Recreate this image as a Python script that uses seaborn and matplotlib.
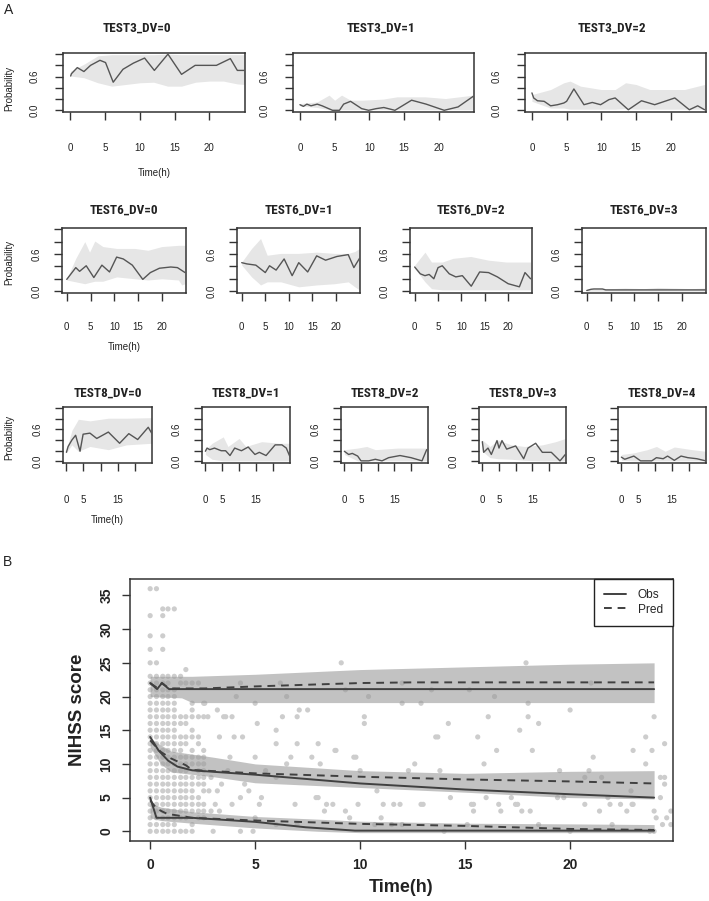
import numpy as np
import pandas as pd
import matplotlib
matplotlib.use("Agg")
import matplotlib.pyplot as plt
from matplotlib import font_manager as fm
import seaborn as sns
from matplotlib.lines import Line2D

W, H = 709, 901
sns.set_theme(style="ticks")
plt.rcParams["font.family"] = ["Liberation Sans", "DejaVu Sans"]

# ---------------- Panel A data ----------------
titles_row1 = ["TEST3_DV=0", "TEST3_DV=1", "TEST3_DV=2"]
titles_row2 = ["TEST6_DV=0", "TEST6_DV=1", "TEST6_DV=2", "TEST6_DV=3"]
titles_row3 = ["TEST8_DV=0", "TEST8_DV=1", "TEST8_DV=2", "TEST8_DV=3", "TEST8_DV=4"]

t3_0_obs_t = [0.1, 0.2, 1.05, 2.0, 2.95, 4.3, 5.1, 6.2, 7.6, 9.1, 10.7, 12.1, 14.05, 16.0, 17.95, 21.0, 23.0, 24.0, 25.0]
t3_0_obs_p = [0.61, 0.65, 0.76, 0.69, 0.80, 0.89, 0.85, 0.50, 0.73, 0.84, 0.93, 0.71, 1.00, 0.64, 0.80, 0.80, 0.92, 0.71, 0.71]
t3_0_band_t = [0.1, 2.0, 4.0, 6.0, 8.0, 10.0, 12.0, 14.0, 16.0, 18.0, 20.0, 22.0, 24.0, 25.0]
t3_0_hi = [0.70, 0.82, 0.97, 0.99, 0.99, 0.99, 0.99, 1.00, 0.99, 0.99, 0.99, 0.99, 0.99, 0.99]
t3_0_lo = [0.61, 0.58, 0.49, 0.43, 0.46, 0.49, 0.50, 0.43, 0.43, 0.50, 0.52, 0.52, 0.47, 0.46]

t3_1_obs_t = [0.0, 0.5, 1.0, 1.6, 2.5, 3.2, 4.7, 5.7, 6.3, 7.3, 8.9, 9.9, 11.0, 12.1, 13.7, 16.1, 18.2, 20.8, 22.8, 25.0]
t3_1_obs_p = [0.10, 0.07, 0.11, 0.08, 0.11, 0.08, 0.0, 0.0, 0.11, 0.16, 0.03, 0.0, 0.03, 0.05, 0.0, 0.18, 0.11, 0.0, 0.06, 0.25]
t3_1_band_t = [0.0, 2.5, 4.2, 5.0, 6.0, 7.3, 9.0, 12.0, 14.0, 18.0, 21.0, 25.0]
t3_1_hi = [0.12, 0.15, 0.27, 0.18, 0.27, 0.18, 0.18, 0.20, 0.24, 0.24, 0.21, 0.27]
t3_1_lo = [0.08, 0.05, 0.01, 0.01, 0.01, 0.01, 0.01, 0.01, 0.01, 0.01, 0.01, 0.01]

t3_2_obs_t = [0.0, 0.25, 0.8, 1.76, 2.7, 3.7, 4.6, 5.0, 6.05, 7.5, 8.7, 9.9, 11.1, 12.0, 13.9, 15.8, 17.7, 20.6, 22.7, 23.9, 24.9]
t3_2_obs_p = [0.31, 0.22, 0.17, 0.16, 0.08, 0.10, 0.13, 0.16, 0.38, 0.10, 0.14, 0.10, 0.19, 0.22, 0.01, 0.17, 0.10, 0.22, 0.01, 0.08, 0.01]
t3_2_band_t = [0.0, 2.7, 4.6, 5.5, 7.0, 10.0, 12.0, 13.5, 15.0, 17.0, 22.0, 24.9]
t3_2_hi = [0.28, 0.37, 0.49, 0.52, 0.43, 0.37, 0.37, 0.49, 0.46, 0.37, 0.37, 0.46]
t3_2_lo = [0.16, 0.04, 0.04, 0.02, 0.02, 0.02, 0.02, 0.03, 0.02, 0.02, 0.02, 0.02]

t6_0_obs_t = [0.0, 1.9, 2.7, 4.1, 5.7, 7.4, 9.0, 10.5, 11.9, 13.8, 16.0, 17.6, 19.5, 21.9, 23.3, 24.9]
t6_0_obs_p = [0.19, 0.38, 0.32, 0.41, 0.22, 0.42, 0.31, 0.55, 0.52, 0.42, 0.19, 0.30, 0.37, 0.39, 0.38, 0.30]
t6_0_band_t = [0.0, 1.9, 3.8, 4.8, 5.9, 7.6, 10.5, 14.3, 17.1, 20.0, 23.5, 24.2, 24.9]
t6_0_hi = [0.20, 0.53, 0.80, 0.63, 0.81, 0.72, 0.69, 0.69, 0.66, 0.72, 0.74, 0.74, 0.74]
t6_0_lo = [0.18, 0.15, 0.12, 0.14, 0.16, 0.16, 0.23, 0.20, 0.18, 0.20, 0.18, 0.10, 0.12]

t6_1_obs_t = [0.0, 1.1, 3.0, 5.0, 5.9, 7.3, 9.0, 10.7, 12.1, 14.0, 15.9, 17.8, 20.2, 22.6, 23.8, 25.0]
t6_1_obs_p = [0.46, 0.44, 0.42, 0.30, 0.41, 0.34, 0.52, 0.25, 0.46, 0.31, 0.57, 0.50, 0.56, 0.59, 0.38, 0.53]
t6_1_band_t = [0.0, 2.1, 4.0, 5.4, 8.3, 12.1, 15.9, 19.7, 22.6, 24.0, 25.0]
t6_1_hi = [0.47, 0.69, 0.85, 0.58, 0.61, 0.61, 0.63, 0.61, 0.61, 0.64, 0.69]
t6_1_lo = [0.42, 0.23, 0.10, 0.15, 0.15, 0.07, 0.10, 0.12, 0.15, 0.07, 0.02]

t6_2_obs_t = [0.0, 1.2, 2.2, 3.1, 4.1, 5.0, 5.9, 7.4, 8.8, 10.2, 12.1, 13.9, 15.8, 17.7, 20.0, 22.4, 23.6, 24.8]
t6_2_obs_p = [0.39, 0.28, 0.25, 0.27, 0.20, 0.38, 0.41, 0.28, 0.23, 0.25, 0.08, 0.31, 0.30, 0.23, 0.12, 0.07, 0.30, 0.20]
t6_2_band_t = [0.0, 2.2, 3.6, 5.9, 8.2, 12.0, 15.8, 19.6, 24.8]
t6_2_hi = [0.42, 0.63, 0.47, 0.47, 0.53, 0.56, 0.50, 0.47, 0.47]
t6_2_lo = [0.37, 0.15, 0.04, 0.02, 0.02, 0.02, 0.02, 0.02, 0.02]

t6_3_obs_t = [0.0, 0.9, 1.5, 3.3, 4.0, 25.0]
t6_3_obs_p = [0.01, 0.03, 0.035, 0.035, 0.02, 0.02]
t6_3_band_t = [0.0, 5.0, 8.0, 12.0, 15.0, 18.0, 22.0, 25.0]
t6_3_hi = [0.03, 0.04, 0.05, 0.04, 0.06, 0.05, 0.04, 0.05]
t6_3_lo = [0.0, 0.0, 0.0, 0.0, 0.0, 0.0, 0.0, 0.0]

t8_0_obs_t = [0.0, 0.5, 1.6, 2.7, 4.0, 4.9, 6.9, 8.9, 12.3, 15.6, 18.3, 20.9, 24.0, 25.0]
t8_0_obs_p = [0.17, 0.28, 0.40, 0.49, 0.19, 0.51, 0.53, 0.43, 0.55, 0.34, 0.52, 0.41, 0.64, 0.53]
t8_0_band_t = [0.0, 1.6, 3.5, 6.9, 12.3, 17.6, 25.0]
t8_0_hi = [0.22, 0.58, 0.79, 0.76, 0.81, 0.81, 0.82]
t8_0_lo = [0.16, 0.31, 0.19, 0.28, 0.22, 0.31, 0.34]

t8_1_obs_t = [0.0, 0.5, 1.3, 2.7, 4.7, 6.0, 7.3, 8.7, 10.7, 12.7, 14.7, 16.0, 18.0, 20.7, 22.7, 24.0, 25.0]
t8_1_obs_p = [0.19, 0.25, 0.22, 0.25, 0.20, 0.20, 0.11, 0.25, 0.20, 0.27, 0.13, 0.17, 0.11, 0.31, 0.31, 0.25, 0.10]
t8_1_band_t = [0.0, 2.0, 5.3, 6.7, 10.0, 12.0, 16.7, 22.0, 25.0]
t8_1_hi = [0.22, 0.34, 0.46, 0.28, 0.43, 0.28, 0.37, 0.34, 0.34]
t8_1_lo = [0.13, 0.04, 0.01, 0.01, 0.01, 0.01, 0.01, 0.01, 0.01]

t8_2_obs_t = [0.0, 1.3, 2.4, 4.0, 5.0, 7.3, 9.3, 11.3, 13.3, 16.7, 20.0, 23.3, 24.7]
t8_2_obs_p = [0.19, 0.13, 0.15, 0.10, 0.01, 0.01, 0.04, 0.01, 0.07, 0.11, 0.07, 0.01, 0.22]
t8_2_band_t = [0.0, 4.0, 6.7, 9.3, 16.0, 24.7]
t8_2_hi = [0.22, 0.25, 0.28, 0.22, 0.25, 0.25]
t8_2_lo = [0.13, 0.01, 0.01, 0.01, 0.01, 0.01]

t8_3_obs_t = [0.0, 0.4, 1.7, 2.7, 4.4, 5.0, 5.9, 7.3, 10.0, 12.4, 13.7, 16.0, 18.0, 20.7, 23.3, 24.9]
t8_3_obs_p = [0.37, 0.17, 0.25, 0.13, 0.39, 0.25, 0.39, 0.23, 0.29, 0.05, 0.25, 0.34, 0.17, 0.17, 0.01, 0.13]
t8_3_band_t = [0.0, 2.3, 4.7, 8.7, 12.7, 18.0, 22.0, 24.9]
t8_3_hi = [0.40, 0.28, 0.40, 0.31, 0.28, 0.31, 0.37, 0.43]
t8_3_lo = [0.19, 0.07, 0.05, 0.04, 0.02, 0.01, 0.01, 0.01]

t8_4_obs_t = [0.0, 1.0, 3.7, 5.7, 9.0, 10.4, 12.4, 13.7, 15.7, 17.7, 19.7, 22.4, 25.0]
t8_4_obs_p = [0.08, 0.04, 0.10, 0.01, 0.01, 0.07, 0.05, 0.10, 0.02, 0.10, 0.07, 0.05, 0.01]
t8_4_band_t = [0.0, 3.7, 7.7, 10.4, 13.0, 15.7, 21.0, 25.0]
t8_4_hi = [0.13, 0.16, 0.22, 0.28, 0.19, 0.27, 0.22, 0.19]
t8_4_lo = [0.02, 0.01, 0.01, 0.01, 0.01, 0.01, 0.01, 0.01]

prob_ticks = [0.0, 0.2, 0.4, 0.6, 0.8, 1.0]
prob_ticklabels = ["0.0", "", "", "0.6", "", ""]
time_ticks_a = [0, 5, 10, 15, 20]
time_labels_full = ["0", "5", "10", "15", "20"]
time_labels_row3 = ["0", "5", "", "15", ""]

# ---------------- Panel B data ----------------
hi_obs_t = [0.0, 0.33, 0.56, 0.9, 2.0, 5.0, 10.0, 15.0, 20.0, 24.0]
hi_obs = [22.0, 21.1, 22.0, 21.1, 21.1, 21.1, 21.1, 21.1, 21.1, 21.1]
hi_pred_t = [0.0, 0.33, 0.56, 0.9, 2.6, 5.0, 8.0, 10.0, 12.5, 15.0, 20.0, 24.0]
hi_pred = [22.0, 21.3, 22.0, 21.2, 21.2, 21.5, 21.8, 22.0, 22.1, 22.1, 22.1, 22.1]
hi_band_t = [0.0, 1.5, 2.0, 5.0, 10.0, 15.0, 20.0, 24.0]
hi_band_hi = [23.0, 23.0, 23.0, 23.3, 24.0, 24.4, 24.8, 25.0]
hi_band_lo = [20.0, 19.8, 19.1, 19.1, 19.1, 19.1, 19.1, 19.1]

mid_obs_t = [0.0, 0.2, 0.4, 0.85, 1.3, 2.0, 5.0, 10.0, 15.0, 20.0, 24.0]
mid_obs = [14.0, 13.0, 12.0, 10.5, 9.6, 9.05, 8.4, 7.1, 6.2, 5.5, 5.0]
mid_pred_t = [0.0, 0.2, 0.5, 1.0, 1.7, 2.0, 5.0, 10.0, 15.0, 20.0, 24.0]
mid_pred = [13.5, 12.8, 11.8, 10.8, 9.8, 9.1, 8.6, 8.1, 7.7, 7.4, 7.1]
mid_band_t = [0.0, 0.5, 1.0, 3.0, 5.0, 10.0, 15.0, 20.0, 24.0]
mid_band_hi = [13.8, 12.8, 11.9, 11.0, 10.0, 9.0, 8.6, 8.9, 9.0]
mid_band_lo = [12.5, 10.0, 8.8, 8.1, 7.2, 6.5, 5.8, 5.0, 4.8]

lo_obs_t = [0.0, 0.3, 2.0, 5.0, 7.4, 9.75, 15.0, 20.0, 24.0]
lo_obs = [5.0, 2.0, 2.0, 1.4, 0.6, 0.1, 0.1, 0.1, 0.1]
lo_pred_t = [0.0, 0.3, 0.6, 0.8, 2.0, 5.0, 10.0, 15.0, 20.0, 24.0]
lo_pred = [4.6, 3.4, 2.9, 2.6, 2.0, 1.6, 1.1, 0.8, 0.35, 0.2]
lo_band_t = [0.0, 0.5, 2.0, 5.0, 8.0, 10.0, 15.0, 20.0, 24.0]
lo_band_hi = [4.2, 3.6, 2.9, 2.2, 1.8, 1.5, 1.2, 1.1, 1.0]
lo_band_lo = [2.0, 1.6, 1.2, 0.5, 0.0, -0.2, -0.2, -0.2, -0.2]

dense_t = [0.0, 0.3, 0.6, 0.85, 1.15, 1.45, 1.7, 2.0, 2.3, 2.55]
dense_y = [
    [36, 32, 29, 27, 25, 23, 22, 21, 20, 19, 18, 17, 16, 15, 14, 13, 12, 11, 10, 9, 8, 7, 6, 5, 4, 3, 2, 1, 0],
    [36, 25, 23, 22, 21, 20, 19, 18, 17, 16, 15, 14, 13, 12, 11, 10, 9, 8, 7, 6, 5, 4, 3, 2, 1, 0],
    [33, 32, 29, 27, 23, 22, 21, 20, 19, 18, 17, 16, 15, 14, 13, 12, 11, 10, 9, 8, 7, 6, 5, 4, 3, 2, 1, 0],
    [33, 23, 22, 21, 20, 19, 18, 17, 16, 15, 14, 13, 12, 11, 10, 9, 8, 7, 6, 5, 4, 3, 2, 1, 0],
    [33, 23, 21, 20, 19, 18, 17, 16, 15, 14, 13, 12, 11, 10, 9, 8, 7, 6, 5, 4, 3, 2, 1, 0],
    [23, 22, 17, 16, 14, 13, 12, 11, 10, 9, 8, 7, 6, 5, 4, 3, 2, 0],
    [24, 22, 17, 16, 14, 13, 11, 10, 9, 8, 7, 6, 5, 4, 3, 2, 0],
    [22, 19, 18, 17, 15, 14, 12, 11, 10, 8, 7, 6, 5, 4, 3, 1, 0],
    [22, 17, 14, 13, 11, 10, 9, 8, 7, 5, 4, 3, 2],
    [19, 17, 12, 11, 10, 9, 8, 7, 6, 4, 3, 2],
]

sparse_t = [2.75, 3.2, 3.5, 3.6, 3.9, 3.3, 4.0, 4.4, 3.8, 5.0, 2.6, 4.3, 4.1, 5.0, 5.1, 6.0, 6.3, 6.5,
            7.1, 7.5, 7.0, 6.0, 7.0, 8.0, 7.7, 8.8, 9.8, 9.1, 6.2,
            17.9, 10.4, 12.0, 12.9, 16.4, 18.0, 20.0, 10.2, 10.2, 14.2, 16.1, 18.0, 18.5, 17.6, 24.0,
            13.6, 15.6, 23.6, 24.5, 9.7, 16.5, 18.2, 23.0, 23.9, 12.6, 15.9, 21.1, 23.6, 10.0, 12.3,
            13.8, 19.5, 20.9, 24.3, 10.8, 14.3, 16.0, 17.2, 19.4, 19.7, 24.3, 9.9, 11.1, 11.6, 11.9,
            13.0, 15.4, 17.4, 20.7, 21.9, 22.4, 23.0, 12.0, 21.0, 13.4, 15.2, 9.3,
            21.8, 22.9, 21.5, 20.7, 6.7, 8.1, 8.85, 13.7,
            6.9, 8.4, 8.7, 12.9, 15.3, 16.6, 17.5, 22.95, 4.3, 5.2, 7.9, 8.0, 9.3, 8.3, 11.0, 9.5,
            15.4, 16.7, 17.7, 18.1, 21.4, 22.7, 24.0, 24.1, 24.4, 24.8, 23.8, 24.0, 15.1, 4.3, 4.9,
            3.0, 5.0, 6.0, 7.0, 12.0, 14.0, 18.5, 20.0, 22.0, 24.8, 24.5, 24.5, 24.6, 10.7, 11.5,
            5.3, 3.1, 3.9, 2.9, 3.3, 2.8, 3.2, 3.4, 2.9, 4.7, 4.5, 5.5, 6.0, 6.5, 3.7]
sparse_y = [17, 18, 17, 17, 17, 14, 14, 14, 11, 11, 19, 22, 20, 19, 16, 15, 17, 20,
            18, 18, 17, 13, 13, 13, 11, 12, 11, 25, 22,
            25, 20, 19, 19, 20, 19, 18, 17, 16, 16, 17, 17, 16, 15, 17,
            14, 14, 14, 13, 11, 12, 12, 12, 12, 10, 10, 11, 10, 9, 9,
            9, 9, 9, 8, 6, 5, 5, 5, 5, 5, 5, 4, 4, 4, 4,
            4, 4, 4, 4, 4, 4, 4, 22, 22, 21, 21, 21,
            5, 6, 8, 8, 11, 10, 12, 14,
            4, 4, 4, 4, 4, 4, 4, 4, 5, 4, 5, 5, 3, 3, 2, 2,
            3, 3, 3, 3, 3, 3, 3, 2, 1, 1, 0, 0, 1, 0, 0,
            0, 2, 1, 1, 1, 0, 1, 0, 1, 3, 8, 7, 2, 1, 1,
            5, 4, 4, 3, 3, 6, 6, 7, 8, 6, 7, 9, 8, 10, 9]

b_yticks = [0, 5, 10, 15, 20, 25, 30, 35]
b_xticks = [0, 5, 10, 15, 20]

# ---------------- fonts ----------------
available = {f.name for f in fm.fontManager.ttflist}
title_kw = None
for cand in ["Liberation Sans Narrow", "Arial Narrow", "Roboto Condensed", "Open Sans Condensed",
             "Noto Sans Condensed", "DejaVu Sans Condensed"]:
    if cand in available:
        title_kw = dict(family=[cand, "DejaVu Sans"], fontsize=9.5)
        break
if title_kw is None:
    condensed = [f for f in fm.fontManager.ttflist
                 if f.name in ("DejaVu Sans", "Noto Sans", "Open Sans")
                 and str(f.stretch) in ("condensed", "semi-condensed", "extra-condensed", "75", "87")
                 and str(f.weight) in ("bold", "700")]
    if condensed:
        title_kw = dict(family=[condensed[0].name], fontstretch=condensed[0].stretch, fontsize=8)
    else:
        title_kw = dict(family=["Liberation Sans", "DejaVu Sans"], fontsize=7.8)

# ---------------- layout helpers ----------------
fig = plt.figure(figsize=(W / 100, H / 100), dpi=100)


def rect(x0, x1, y0, y1):
    return [x0 / W, 1 - y1 / H, (x1 - x0) / W, (y1 - y0) / H]


def ftext(x, y, s, **kw):
    fig.text(x / W, 1 - y / H, s, ha="center", va="center", **kw)


SPINE = "#333333"

rows = [
    dict(titles=titles_row1, ty=28, y0=53, y1=112, xpad=16, ypad=11, tlabels=time_labels_full, timey=173,
         xs=[(63, 245), (293, 474), (525, 706)], tx=[137, 381, 612], ply=88,
         data=[(t3_0_obs_t, t3_0_obs_p, t3_0_band_t, t3_0_lo, t3_0_hi),
               (t3_1_obs_t, t3_1_obs_p, t3_1_band_t, t3_1_lo, t3_1_hi),
               (t3_2_obs_t, t3_2_obs_p, t3_2_band_t, t3_2_lo, t3_2_hi)]),
    dict(titles=titles_row2, ty=210, y0=228, y1=293, xpad=15, ypad=9, tlabels=time_labels_full, timey=347,
         xs=[(62, 186), (237, 360), (410, 532), (582, 706)], tx=None, ply=262,
         data=[(t6_0_obs_t, t6_0_obs_p, t6_0_band_t, t6_0_lo, t6_0_hi),
               (t6_1_obs_t, t6_1_obs_p, t6_1_band_t, t6_1_lo, t6_1_hi),
               (t6_2_obs_t, t6_2_obs_p, t6_2_band_t, t6_2_lo, t6_2_hi),
               (t6_3_obs_t, t6_3_obs_p, t6_3_band_t, t6_3_lo, t6_3_hi)]),
    dict(titles=titles_row3, ty=393, y0=407, y1=463, xpad=17, ypad=9, tlabels=time_labels_row3, timey=520,
         xs=[(63, 152), (202, 290), (341, 428), (479, 566), (618, 706)], tx=None, ply=437,
         data=[(t8_0_obs_t, t8_0_obs_p, t8_0_band_t, t8_0_lo, t8_0_hi),
               (t8_1_obs_t, t8_1_obs_p, t8_1_band_t, t8_1_lo, t8_1_hi),
               (t8_2_obs_t, t8_2_obs_p, t8_2_band_t, t8_2_lo, t8_2_hi),
               (t8_3_obs_t, t8_3_obs_p, t8_3_band_t, t8_3_lo, t8_3_hi),
               (t8_4_obs_t, t8_4_obs_p, t8_4_band_t, t8_4_lo, t8_4_hi)]),
]

for row in rows:
    for i, ((x0, x1), (ot, op, bt, lo, hi), title) in enumerate(zip(row["xs"], row["data"], row["titles"])):
        ax = fig.add_axes(rect(x0, x1, row["y0"], row["y1"]))
        ax.fill_between(bt, lo, hi, color="#e6e6e6", lw=0, zorder=1)
        sns.lineplot(x=ot, y=op, ax=ax, color="#555555", lw=1.0, sort=False, estimator=None, zorder=3)
        ax.set_xlim(-1.0, 25.1)
        ax.set_ylim(-0.03, 1.02)
        ax.set_yticks(prob_ticks)
        ax.set_yticklabels(prob_ticklabels, rotation=90, va="center")
        ax.set_xticks(time_ticks_a)
        ax.set_xticklabels(row["tlabels"])
        ax.tick_params(axis="both", direction="out", length=6, width=1.0, color=SPINE,
                       labelsize=7, labelcolor="#222222")
        ax.tick_params(axis="x", pad=row["xpad"])
        ax.tick_params(axis="y", pad=row["ypad"])
        for s in ax.spines.values():
            s.set_visible(True)
            s.set_color(SPINE)
            s.set_linewidth(1.1)
        ax.set_xlabel("")
        ax.set_ylabel("")
        cx = row["tx"][i] if row["tx"] else (x0 + x1) / 2
        ftext(cx, row["ty"], title, fontweight="bold", color="#222222", **title_kw)
        if i == 0:
            ftext(9, row["ply"], "Probability", fontsize=7, rotation=90, color="#222222")
            ftext((x0 + x1) / 2, row["timey"], "Time(h)", fontsize=7, color="#222222")

ftext(9, 10, "A", fontsize=10, color="#222222")
ftext(8, 562, "B", fontsize=10, color="#222222")

# ---------------- Panel B ----------------
axb = fig.add_axes(rect(130, 673, 579, 841))
pts_t = []
pts_y = []
for t, ys in zip(dense_t, dense_y):
    pts_t += [t] * len(ys)
    pts_y += ys
pts_t += sparse_t
pts_y += sparse_y
pts = pd.DataFrame({"t": pts_t, "y": pts_y})
sns.scatterplot(data=pts, x="t", y="y", ax=axb, color="#cdcdcd", s=14, edgecolor="none", zorder=1)

for bt, blo, bhi in [(hi_band_t, hi_band_lo, hi_band_hi), (mid_band_t, mid_band_lo, mid_band_hi),
                     (lo_band_t, lo_band_lo, lo_band_hi)]:
    axb.fill_between(bt, blo, bhi, color="#9a9a9a", alpha=0.6, lw=0, zorder=2)

LC = "#404040"
for ot, ov, pt, pv in [(hi_obs_t, hi_obs, hi_pred_t, hi_pred), (mid_obs_t, mid_obs, mid_pred_t, mid_pred),
                       (lo_obs_t, lo_obs, lo_pred_t, lo_pred)]:
    sns.lineplot(x=ot, y=ov, ax=axb, color=LC, lw=1.4, sort=False, estimator=None, zorder=4)
    sns.lineplot(x=pt, y=pv, ax=axb, color=LC, lw=1.4, sort=False, estimator=None, zorder=4,
                 linestyle=(0, (4, 3)))

axb.set_xlim(-0.96, 24.9)
axb.set_ylim(-1.44, 37.44)
axb.set_xticks(b_xticks)
axb.set_yticks(b_yticks)
axb.set_yticklabels([str(v) for v in b_yticks], rotation=90, va="center")
axb.tick_params(axis="both", direction="out", length=6, width=1.0, color=SPINE, labelsize=10,
                labelcolor="#222222")
for lab in axb.get_xticklabels() + axb.get_yticklabels():
    lab.set_fontweight("bold")
axb.tick_params(axis="x", pad=6)
axb.tick_params(axis="y", pad=6)
for s in axb.spines.values():
    s.set_visible(True)
    s.set_color(SPINE)
    s.set_linewidth(1.1)
axb.set_xlabel("")
axb.set_ylabel("")
ftext(401, 887, "Time(h)", fontsize=13, fontweight="bold", color="#222222")
ftext(78, 710, "NIHSS score", fontsize=13.5, fontweight="bold", rotation=90, color="#222222")

handles = [Line2D([], [], color=LC, lw=1.4), Line2D([], [], color=LC, lw=1.4, linestyle=(0, (4, 3)))]
leg = axb.legend(handles, ["Obs", "Pred"], loc="upper right", borderaxespad=0, fancybox=False,
                 edgecolor="#222222", framealpha=1, fontsize=8.6, handlelength=1.9, handletextpad=0.95,
                 borderpad=0.85, labelspacing=0.2)
leg.get_frame().set_linewidth(1.0)

fig.savefig("out.png", dpi=100)
